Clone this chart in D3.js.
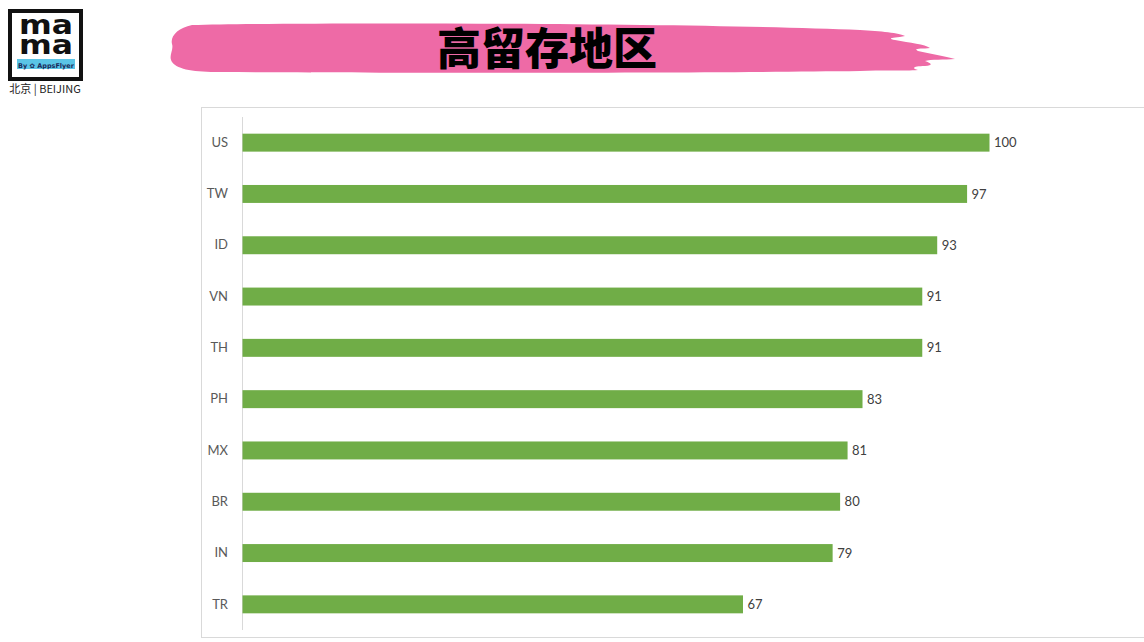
<!DOCTYPE html>
<html>
<head>
<meta charset="utf-8">
<script src="https://cdn.jsdelivr.net/npm/d3@7"></script>
<style>
  html, body { margin: 0; padding: 0; background: #fff; }
  svg { display: block; }
</style>
</head>
<body>
<svg id="chart" width="1144" height="642"></svg>
<script>
const categories = ["US", "TW", "ID", "VN", "TH", "PH", "MX", "BR", "IN", "TR"];
const values = [100, 97, 93, 91, 91, 83, 81, 80, 79, 67];
const title = "高留存地区";

const svg = d3.select("#chart");

// ---- Logo ----
const logo = svg.append("g");
logo.append("rect").attr("x", 10).attr("y", 11).attr("width", 71).attr("height", 68)
  .attr("fill", "#fff").attr("stroke", "#111").attr("stroke-width", 4);
const mm = logo.append("text")
  .attr("font-family", "DejaVu Sans").attr("font-weight", 900).attr("font-size", 26)
  .attr("fill", "#111");
mm.append("tspan").attr("x", 19).attr("y", 34).attr("textLength", 54)
  .attr("lengthAdjust", "spacingAndGlyphs").text("ma");
mm.append("tspan").attr("x", 19).attr("y", 54).attr("textLength", 54)
  .attr("lengthAdjust", "spacingAndGlyphs").text("ma");
logo.append("rect").attr("x", 17).attr("y", 59).attr("width", 58).attr("height", 10).attr("fill", "#5bc5e6");
logo.append("text").attr("x", 46).attr("y", 67.5).attr("text-anchor", "middle")
  .attr("font-family", "DejaVu Sans").attr("font-weight", "bold").attr("font-size", 6.5)
  .attr("fill", "#1a2a5a").text("By ✿ AppsFlyer");
logo.append("text").attr("x", 45).attr("y", 93).attr("text-anchor", "middle")
  .attr("font-family", "Noto Sans CJK SC").attr("font-size", 11).attr("fill", "#222")
  .text("北京 | BEIJING");

// ---- Title brush ----
const brush = "M172,44 C170,36 178,28 192,25 C300,22 700,23 860,30 C880,31 900,33 905,36 C895,38 885,38 895,40 C910,43 925,44 930,48 C922,49 912,48 918,51 C930,54 945,56 955,59 C945,60 930,59 925,61 C930,63 935,65 925,66 C915,66 910,68 918,70 C905,71 880,70 860,71 C700,73 400,73 220,72 C195,72 178,70 172,62 C168,56 174,50 172,44 Z";
svg.append("path").attr("d", brush).attr("fill", "#ee6aa6");
svg.append("text").attr("x", 547).attr("y", 65).attr("text-anchor", "middle")
  .attr("font-family", "Noto Sans CJK SC").attr("font-weight", 900).attr("font-size", 44)
  .attr("fill", "#000").text(title);

// ---- Chart frame ----
svg.append("rect").attr("x", 201.5).attr("y", 107.5).attr("width", 960).attr("height", 530)
  .attr("fill", "#fff").attr("stroke", "#d9d9d9").attr("stroke-width", 1);

const x = d3.scaleLinear().domain([0, 100]).range([242, 989]);
const y = d3.scaleBand().domain(categories).range([117, 630]).paddingInner(0.65).paddingOuter(0.325);

svg.append("line").attr("x1", 242.5).attr("x2", 242.5).attr("y1", 117).attr("y2", 630)
  .attr("stroke", "#d9d9d9");

const data = categories.map((c, i) => ({ c, v: values[i] }));

svg.append("g").selectAll("rect").data(data).join("rect")
  .attr("x", x(0) + 0.5).attr("y", d => y(d.c))
  .attr("width", d => x(d.v) - x(0)).attr("height", y.bandwidth())
  .attr("fill", "#70ad47");

const yAxis = d3.axisLeft(y).tickSize(0).tickPadding(14);
const ga = svg.append("g").attr("transform", "translate(242,0)").call(yAxis);
ga.select(".domain").remove();
ga.selectAll("text").attr("font-family", "Lato, 'Open Sans', sans-serif").attr("font-size", 13)
  .attr("fill", "#595959");

svg.append("g").selectAll("text").data(data).join("text")
  .attr("x", d => x(d.v) + 5).attr("y", d => y(d.c) + y.bandwidth() / 2)
  .attr("dy", "0.35em")
  .attr("font-family", "Lato, 'Open Sans', sans-serif").attr("font-size", 13)
  .attr("fill", "#404040").text(d => d.v);
</script>
</body>
</html>
